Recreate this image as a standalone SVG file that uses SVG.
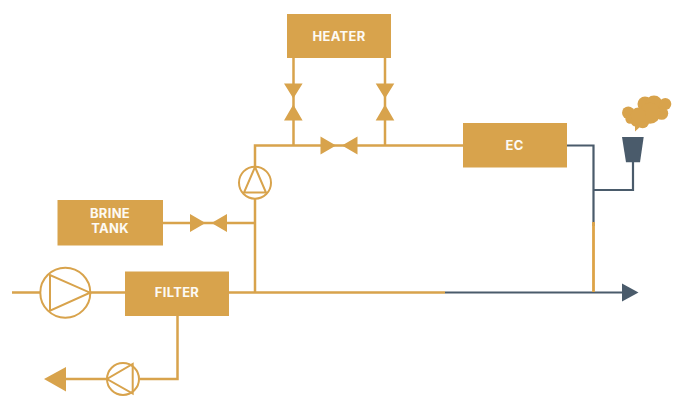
<svg xmlns="http://www.w3.org/2000/svg" width="681" height="406" viewBox="0 0 681 406">
<style>
.b{fill:#d8a34c}
.l{fill:none;stroke:#d8a34c;stroke-width:2.5}
.g{fill:none;stroke:#4a5b6b;stroke-width:2.2}
.s{fill:none;stroke:#d8a34c;stroke-width:2}
.d{fill:#4a5b6b}
text{font-family:"Inter","Open Sans",sans-serif;font-weight:700;font-size:13px;fill:#fdfaf4;text-anchor:middle;letter-spacing:.3px}
</style>
<rect width="681" height="406" fill="#fff"/>
<g id="connectors">
<path class="l" d="M293.500 58V145.500M385 58V145.500M255 166V145.500H463M163 223H255M255 199V292.500M12 292.500H40M90 292.500H125M229 292.500H445M177.500 316V379H140M107 379H66"/>
<path class="g" d="M567 145.500H593.500V226M633 162V190H593.500M445 292.500H622"/>
<path d="M593.500 222V292" fill="none" stroke="#dda347" stroke-width="2.800"/>
<path class="d" d="M622 283.500L638.500 292.500L622 301.500Z"/>
<path class="b" d="M66 367V391.500L44 379Z"/>
</g>
<g id="heater"><rect class="b" x="287" y="14" width="104" height="44"/><text x="339" y="40.500">HEATER</text></g>
<g id="ec"><rect class="b" x="463" y="123" width="104" height="44.500"/><text x="514.500" y="149.700">EC</text></g>
<g id="brine-tank"><rect class="b" x="57.500" y="200" width="105.500" height="45.500"/><text x="110" y="218.400">BRINE</text><text x="110" y="233">TANK</text></g>
<g id="filter"><rect class="b" x="125" y="271.500" width="104" height="44.500"/><text x="177" y="297.200">FILTER</text></g>
<g id="valve-heater-left"><path class="b" d="M284 83.500H302.600L293.300 98.500ZM284 120.500H302.600L293.300 104.500Z"/></g>
<g id="valve-heater-right"><path class="b" d="M375.700 83.500H394.300L385 98.500ZM375.700 120.500H394.300L385 104.500Z"/></g>
<g id="valve-middle"><path class="b" d="M320.500 136.500V154.500L336 145.500ZM357.500 136.500V154.500L342 145.500Z"/></g>
<g id="valve-brine"><path class="b" d="M190 214V232L205.500 223ZM227 214V232L211.500 223Z"/></g>
<g id="pump-vertical"><circle class="s" cx="255" cy="182.700" r="16"/><path class="s" d="M255 167L266 192.500H244Z"/></g>
<g id="pump-main"><circle class="s" cx="65.300" cy="292.700" r="25"/><path class="s" d="M50 275V310.700L90 292.700Z"/></g>
<g id="pump-reject"><circle class="s" cx="123" cy="379" r="16"/><path class="s" d="M132.700 364V393.500L107 379Z"/></g>
<g id="stack">
<path class="d" d="M622 137H643.700L640 162.300H626Z"/>
<path class="b" d="M635 124L635 131.500L641 126Z"/>
<g class="b"><circle cx="628.300" cy="112.700" r="6.300"/><circle cx="630" cy="119.300" r="4.500"/><circle cx="636" cy="121" r="5.500"/><circle cx="642.700" cy="121.700" r="6.500"/><circle cx="645" cy="104" r="7.500"/><circle cx="654" cy="104" r="8.500"/><circle cx="665.300" cy="104" r="6"/><circle cx="661.700" cy="113.300" r="6.500"/><circle cx="650" cy="113.300" r="10.500"/><circle cx="638.300" cy="115" r="7.500"/></g>
</g>
</svg>
